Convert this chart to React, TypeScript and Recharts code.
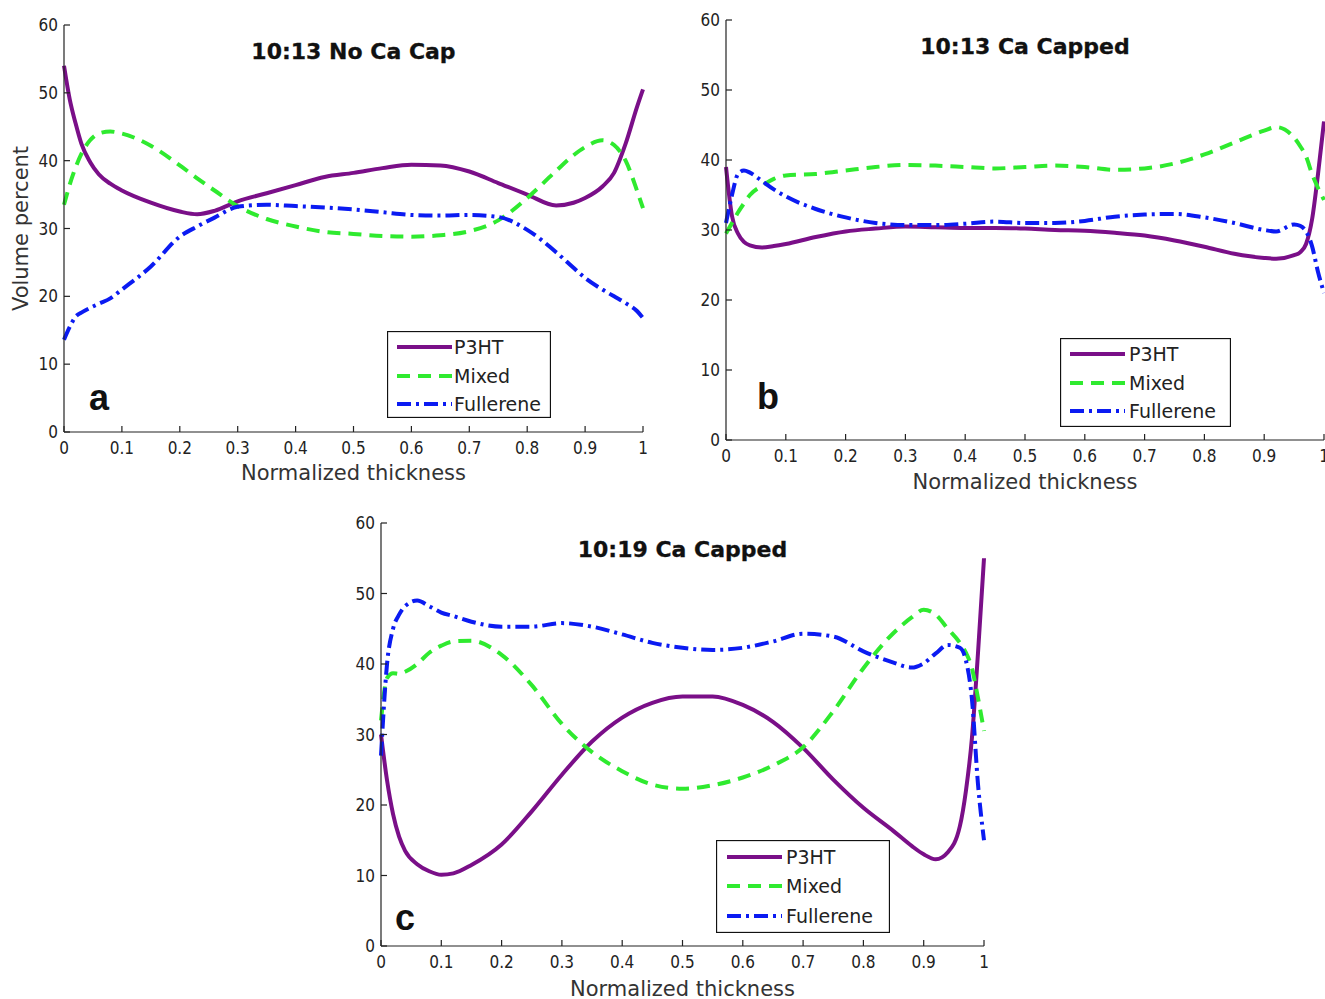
import React from 'react';
import { LineChart, Line, XAxis, YAxis, Legend } from 'recharts';

// ---------- data ----------
const xA = [0, 0.01, 0.02, 0.03, 0.045, 0.06, 0.08, 0.1, 0.15, 0.2, 0.23, 0.26, 0.3, 0.35, 0.4, 0.45, 0.5, 0.55, 0.6, 0.65, 0.7, 0.75, 0.8, 0.85, 0.88, 0.9, 0.93, 0.95, 0.97, 0.99, 1.0];
const p3htA = [54, 49, 45.5, 42.5, 39.8, 38, 36.6, 35.6, 33.8, 32.5, 32.1, 32.6, 34, 35.2, 36.4, 37.6, 38.2, 38.9, 39.4, 39.3, 38.4, 36.7, 35, 33.4, 33.8, 34.5, 36.2, 38.2, 42.5, 48, 50.5];
const mixedA = [33.5, 36.5, 39, 41, 43, 44, 44.3, 44, 42.2, 39.3, 37.4, 35.6, 33.3, 31.4, 30.3, 29.5, 29.2, 28.9, 28.8, 29, 29.6, 31.2, 34.5, 38.5, 40.8, 42, 43, 42.3, 40, 35.5, 33];
const fullA = [13.6, 15.5, 17, 17.6, 18.3, 18.9, 19.7, 21, 24.4, 28.8, 30.3, 31.6, 33.2, 33.5, 33.3, 33.1, 32.8, 32.4, 32, 31.9, 32, 31.7, 29.8, 26.5, 24.2, 22.7, 21, 20, 19, 17.8, 16.8];

const xB = [0, 0.01, 0.02, 0.03, 0.04, 0.06, 0.08, 0.1, 0.15, 0.2, 0.25, 0.3, 0.35, 0.4, 0.45, 0.5, 0.55, 0.6, 0.65, 0.7, 0.75, 0.8, 0.85, 0.9, 0.92, 0.95, 0.96, 0.97, 0.98, 0.99, 1.0];
const p3htB = [39, 32, 29.5, 28.3, 27.8, 27.5, 27.7, 28, 29, 29.8, 30.2, 30.5, 30.4, 30.3, 30.3, 30.2, 30, 29.9, 29.6, 29.2, 28.5, 27.6, 26.6, 26, 25.9, 26.4, 26.8, 28, 31.5, 38, 45.5];
const mixedB = [29.5, 31, 32.5, 33.8, 35, 36.3, 37.3, 37.8, 38, 38.5, 39, 39.3, 39.2, 39, 38.8, 39, 39.2, 39, 38.6, 38.8, 39.5, 40.8, 42.5, 44.2, 44.7, 43.2, 42, 40.5, 38, 36, 34.3];
const fullB = [31, 35, 38, 38.5, 38.2, 37, 35.8, 34.8, 33, 31.8, 31, 30.7, 30.7, 30.9, 31.2, 31, 31, 31.3, 31.9, 32.2, 32.3, 31.8, 31, 30, 29.8, 30.8, 30.6, 29.8, 27.7, 24, 21];

const xC = [0, 0.01, 0.02, 0.03, 0.04, 0.06, 0.08, 0.1, 0.12, 0.15, 0.2, 0.25, 0.3, 0.35, 0.4, 0.45, 0.5, 0.55, 0.6, 0.65, 0.7, 0.75, 0.8, 0.85, 0.88, 0.9, 0.92, 0.94, 0.96, 0.97, 0.98, 0.99, 1.0];
const p3htC = [30, 23.5, 18.7, 15.5, 13.5, 11.6, 10.6, 10.1, 10.3, 11.5, 14.4, 19.1, 24.3, 29, 32.4, 34.5, 35.4, 35.4, 34.2, 31.8, 28.1, 23.6, 19.6, 16.3, 14.2, 13, 12.3, 13.3, 17, 22, 29.5, 41.5, 55];
const mixedC = [32, 38, 38.7, 38.6, 38.9, 40, 41.6, 42.6, 43.2, 43.3, 41.3, 37, 31.5, 27.5, 24.8, 22.9, 22.3, 22.8, 23.9, 25.6, 28.2, 33.3, 39.4, 44.4, 46.6, 47.7, 47, 45, 43, 41.6, 39.4, 35.2, 30.5];
const fullC = [27, 40, 45, 47, 48.2, 49, 48.2, 47.3, 46.8, 46, 45.3, 45.3, 45.8, 45.3, 44.2, 43, 42.3, 42, 42.3, 43.2, 44.3, 43.9, 41.8, 40.2, 39.5, 40.1, 41.5, 42.7, 42.3, 40.5, 35, 23, 15];

const xTicks = [0, 0.1, 0.2, 0.3, 0.4, 0.5, 0.6, 0.7, 0.8, 0.9, 1];
const xTickLabels = ['0', '0.1', '0.2', '0.3', '0.4', '0.5', '0.6', '0.7', '0.8', '0.9', '1'];
const yTicks = [0, 10, 20, 30, 40, 50, 60];

const seriesNames = ['P3HT', 'Mixed', 'Fullerene'];
const seriesKeys = ['p3ht', 'mixed', 'full'];
const seriesColors = ['#7A0F88', '#2FEA2F', '#0B1BF2'];
const seriesDash: (string | undefined)[] = [undefined, '13 8', '14 5 3 5'];

const titles = ['10:13 No Ca Cap', '10:13 Ca Capped', '10:19 Ca Capped'];
const letters = ['a', 'b', 'c'];

// ---------- layout ----------
const FONT = "'DejaVu Sans', 'Liberation Sans', sans-serif";

type PanelCfg = {
  left: number; top: number; width: number; height: number;
  margin: { top: number; right: number; bottom: number; left: number };
  yW: number; xH: number;
  titleY: number; letterX: number; letterY: number; xLabelY: number;
  legend: { x: number; y: number; w: number; h: number; rows: number[]; l0: number; l1: number; tx: number };
  yLabel: boolean;
};

const panels: PanelCfg[] = [
  {
    left: 0, top: 0, width: 660, height: 490,
    margin: { top: 25, right: 17, bottom: 0, left: 0 }, yW: 64, xH: 58,
    titleY: 59, letterX: 89, letterY: 410, xLabelY: 480,
    legend: { x: 387, y: 331, w: 164, h: 87, rows: [16, 45, 73], l0: 10, l1: 65, tx: 67 },
    yLabel: true,
  },
  {
    left: 672, top: 0, width: 653, height: 500,
    margin: { top: 20, right: 1, bottom: 0, left: 0 }, yW: 54, xH: 60,
    titleY: 54, letterX: 85, letterY: 409, xLabelY: 489,
    legend: { x: 388, y: 338, w: 171, h: 89, rows: [16, 45, 73], l0: 10, l1: 65, tx: 69 },
    yLabel: false,
  },
  {
    left: 330, top: 505, width: 670, height: 494,
    margin: { top: 18, right: 16, bottom: 0, left: 0 }, yW: 51, xH: 53,
    titleY: 52, letterX: 65, letterY: 425, xLabelY: 491,
    legend: { x: 386, y: 335, w: 174, h: 93, rows: [17, 46, 76], l0: 11, l1: 66, tx: 70 },
    yLabel: false,
  },
];

const panelData = [
  { x: xA, v: [p3htA, mixedA, fullA] },
  { x: xB, v: [p3htB, mixedB, fullB] },
  { x: xC, v: [p3htC, mixedC, fullC] },
];

const tickStyle = { fontSize: 17, fill: '#222', fontFamily: FONT, style: { fontStretch: 'condensed' } };
const noTick = () => <g />;

function LegendBox({ cfg }: { cfg: PanelCfg['legend'] }) {
  return (
    <svg width={cfg.w} height={cfg.h} style={{ display: 'block' }}>
      <rect x={0.5} y={0.5} width={cfg.w - 1} height={cfg.h - 1} fill="#fff" stroke="#111" strokeWidth={1.3} />
      {seriesNames.map((n, i) => (
        <g key={n}>
          <line x1={cfg.l0} x2={cfg.l1} y1={cfg.rows[i]} y2={cfg.rows[i]} stroke={seriesColors[i]} strokeWidth={4} strokeDasharray={seriesDash[i]} />
          <text x={cfg.tx} y={cfg.rows[i] + 7} fontSize={19} fontFamily={FONT} fill="#222">{n}</text>
        </g>
      ))}
    </svg>
  );
}

function Panel({ idx }: { idx: number }) {
  const p = panels[idx];
  const d = panelData[idx];
  const data = d.x.map((x, i) => ({ x, p3ht: d.v[0][i], mixed: d.v[1][i], full: d.v[2][i] }));
  const plotL = p.margin.left + p.yW;
  const plotR = p.width - p.margin.right;
  const plotT = p.margin.top;
  const plotB = p.height - p.margin.bottom - p.xH;
  const cx = (plotL + plotR) / 2;
  const axisStroke = { stroke: '#222', strokeWidth: 1.2 };
  return (
    <div style={{ position: 'absolute', left: p.left, top: p.top, width: p.width, height: p.height }}>
      <LineChart width={p.width} height={p.height} data={data} margin={p.margin}>
        <XAxis dataKey="x" type="number" domain={[0, 1]} ticks={xTicks} interval={0}
          tickFormatter={(v: number, i: number) => xTickLabels[i] ?? String(v)}
          height={p.xH} tickSize={-6} tickMargin={16} tick={tickStyle}
          axisLine={axisStroke} tickLine={axisStroke} />
        <XAxis xAxisId="top" orientation="top" dataKey="x" type="number" domain={[0, 1]} ticks={xTicks} interval={0}
          height={0} tickSize={-6} tick={noTick} axisLine={axisStroke} tickLine={axisStroke} />
        <YAxis type="number" domain={[0, 60]} ticks={yTicks} interval={0} width={p.yW}
          tickSize={-6} tickMargin={12} tick={tickStyle} axisLine={axisStroke} tickLine={axisStroke} />
        <YAxis yAxisId="right" orientation="right" type="number" domain={[0, 60]} ticks={yTicks} interval={0} width={0}
          tickSize={-6} tick={noTick} axisLine={axisStroke} tickLine={axisStroke} />
        {seriesKeys.map((k, i) => (
          <Line key={k} dataKey={k} name={seriesNames[i]} type="monotone" stroke={seriesColors[i]} strokeWidth={4}
            strokeDasharray={seriesDash[i]} dot={false} activeDot={false} isAnimationActive={false} />
        ))}
        <Legend layout="vertical" align="center" verticalAlign="middle"
          wrapperStyle={{ position: 'absolute', left: p.legend.x, top: p.legend.y, width: p.legend.w, height: p.legend.h, margin: 0, padding: 0 }}
          content={() => <LegendBox cfg={p.legend} />} />
        <text x={cx} y={p.titleY} textAnchor="middle" fontSize={22} fontWeight={600} fontFamily={FONT} fill="#111"
          stroke="#111" strokeWidth={0.3}>{titles[idx]}</text>
        <text x={p.letterX} y={p.letterY} fontSize={36} fontWeight="bold" fontFamily="'Liberation Sans', Arial, sans-serif" fill="#111">{letters[idx]}</text>
        <text x={cx} y={p.xLabelY} textAnchor="middle" fontSize={21} fontFamily={FONT} fill="#333">Normalized thickness</text>
        {p.yLabel && (
          <text x={28} y={(plotT + plotB) / 2} textAnchor="middle" fontSize={21} fontFamily={FONT} fill="#333"
            transform={`rotate(-90, 28, ${(plotT + plotB) / 2})`}>Volume percent</text>
        )}
      </LineChart>
    </div>
  );
}

export default function App() {
  return (
    <div style={{ position: 'absolute', left: 0, top: 0, width: 1325, height: 999, background: '#fff', overflow: 'hidden' }}>
      <Panel idx={0} />
      <Panel idx={1} />
      <Panel idx={2} />
    </div>
  );
}
